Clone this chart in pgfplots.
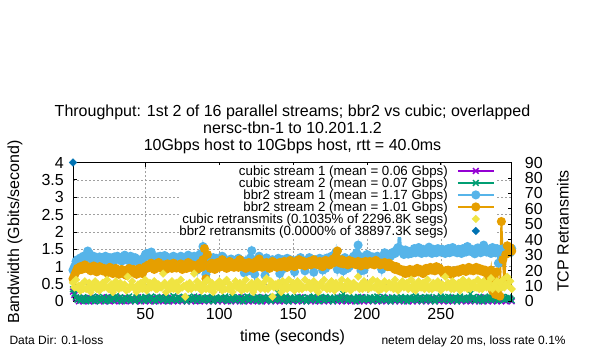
\documentclass[border=0pt]{standalone}
\usepackage{fontspec}
\setmainfont{Liberation Sans}
\usepackage{pgfplots}
\usepackage{pgfplotstable}
\pgfplotsset{compat=1.18}

\definecolor{cpurple}{HTML}{9400D3}
\definecolor{cgreen}{HTML}{009E73}
\definecolor{cblue}{HTML}{56B4E9}
\definecolor{corange}{HTML}{E69F00}
\definecolor{cyellow}{HTML}{F0E442}
\definecolor{cdblue}{HTML}{0072B2}
\definecolor{cgrid}{HTML}{A0A0A0}

\newcommand{\fsz}[1]{\fontsize{#1bp}{#1bp}\selectfont}

% bbr2 stream 1 (Gbps), t = 1..298
\pgfplotstableread[row sep=\\]{v\\
0.90\\ 1.00\\ 1.15\\ 1.20\\ 1.10\\ 1.25\\ 1.18\\ 1.30\\ 1.22\\ 1.28\\
1.45\\ 1.38\\ 1.25\\ 1.20\\ 1.30\\ 1.24\\ 1.15\\ 1.22\\ 1.28\\ 1.20\\
1.25\\ 1.18\\ 1.30\\ 1.22\\ 1.15\\ 1.26\\ 1.20\\ 1.12\\ 1.28\\ 1.24\\
1.30\\ 1.20\\ 1.26\\ 1.16\\ 1.28\\ 1.33\\ 1.22\\ 1.18\\ 1.25\\ 1.30\\
1.20\\ 1.14\\ 1.26\\ 1.22\\ 1.17\\ 1.10\\ 1.20\\ 1.15\\ 1.25\\ 1.35\\
1.38\\ 1.30\\ 1.34\\ 1.42\\ 1.30\\ 1.25\\ 1.20\\ 1.28\\ 1.24\\ 1.30\\
1.18\\ 1.26\\ 1.32\\ 1.20\\ 1.27\\ 1.22\\ 1.15\\ 1.25\\ 1.30\\ 1.20\\
1.25\\ 1.17\\ 1.23\\ 1.30\\ 1.20\\ 1.12\\ 1.26\\ 1.20\\ 1.33\\ 1.27\\
1.20\\ 1.10\\ 1.30\\ 1.16\\ 0.90\\ 1.28\\ 1.36\\ 1.22\\ 1.58\\ 1.34\\
0.78\\ 1.12\\ 1.25\\ 1.20\\ 1.10\\ 1.26\\ 1.18\\ 1.24\\ 1.15\\ 1.10\\
1.22\\ 1.30\\ 1.25\\ 1.18\\ 1.10\\ 1.00\\ 1.16\\ 1.22\\ 1.10\\ 1.18\\
1.06\\ 1.15\\ 1.24\\ 1.12\\ 1.18\\ 1.10\\ 0.82\\ 1.16\\ 0.95\\ 0.88\\
1.25\\ 1.46\\ 1.20\\ 0.78\\ 1.15\\ 1.10\\ 1.30\\ 1.14\\ 1.20\\ 1.10\\
0.75\\ 1.25\\ 1.15\\ 1.10\\ 1.00\\ 1.20\\ 1.16\\ 1.12\\ 1.18\\ 1.24\\
0.80\\ 1.15\\ 1.20\\ 0.95\\ 1.18\\ 1.24\\ 1.12\\ 1.20\\ 1.10\\ 1.16\\
0.85\\ 1.15\\ 1.20\\ 1.10\\ 1.26\\ 1.18\\ 1.10\\ 0.88\\ 1.16\\ 1.20\\
1.26\\ 1.12\\ 1.10\\ 0.84\\ 1.20\\ 1.15\\ 1.10\\ 1.24\\ 1.18\\ 0.90\\
1.20\\ 0.95\\ 1.25\\ 1.15\\ 1.10\\ 1.30\\ 1.20\\ 1.16\\ 1.42\\ 0.92\\
1.15\\ 1.20\\ 1.10\\ 0.88\\ 1.26\\ 1.15\\ 0.95\\ 1.00\\ 1.18\\ 1.24\\
1.30\\ 1.22\\ 1.40\\ 1.62\\ 1.30\\ 0.88\\ 1.20\\ 0.90\\ 1.18\\ 1.35\\
1.25\\ 1.30\\ 1.20\\ 1.28\\ 1.24\\ 1.15\\ 1.30\\ 1.25\\ 1.20\\ 0.92\\
1.28\\ 1.40\\ 1.30\\ 1.26\\ 1.36\\ 1.30\\ 1.35\\ 1.42\\ 1.38\\ 1.48\\
1.55\\ 2.20\\ 1.50\\ 1.42\\ 1.35\\ 1.48\\ 1.40\\ 1.36\\ 1.44\\ 1.38\\
1.45\\ 1.52\\ 1.40\\ 1.48\\ 1.55\\ 1.42\\ 1.38\\ 1.50\\ 1.45\\ 1.40\\
1.48\\ 1.56\\ 1.44\\ 1.38\\ 1.50\\ 1.46\\ 1.40\\ 1.52\\ 1.48\\ 1.42\\
1.50\\ 1.44\\ 1.38\\ 1.46\\ 1.52\\ 1.40\\ 1.47\\ 1.55\\ 1.43\\ 1.48\\
1.40\\ 1.50\\ 1.45\\ 1.38\\ 1.52\\ 1.46\\ 1.42\\ 1.58\\ 1.48\\ 1.44\\
1.50\\ 1.43\\ 1.37\\ 1.48\\ 1.54\\ 1.45\\ 1.40\\ 1.50\\ 1.62\\ 1.46\\
1.42\\ 1.50\\ 1.45\\ 1.38\\ 1.55\\ 1.48\\ 1.40\\ 1.52\\ 1.10\\ 1.45\\
1.50\\ 1.42\\ 1.48\\ 1.55\\ 1.44\\ 1.50\\ 1.40\\ 1.52\\
}\tblBone

% bbr2 stream 2 (Gbps)
\pgfplotstableread[row sep=\\]{v\\
0.65\\ 0.75\\ 0.85\\ 0.95\\ 0.90\\ 1.00\\ 0.92\\ 0.98\\ 1.05\\ 0.95\\
1.00\\ 0.92\\ 0.88\\ 0.95\\ 1.02\\ 0.90\\ 0.85\\ 0.95\\ 1.00\\ 0.92\\
0.88\\ 0.95\\ 0.90\\ 0.82\\ 0.92\\ 0.98\\ 0.86\\ 0.80\\ 0.90\\ 0.95\\
0.85\\ 0.78\\ 0.88\\ 0.92\\ 0.80\\ 0.86\\ 0.75\\ 0.90\\ 0.95\\ 0.82\\
0.88\\ 0.92\\ 0.85\\ 0.78\\ 0.90\\ 0.95\\ 0.86\\ 0.80\\ 0.92\\ 1.00\\
0.95\\ 1.05\\ 0.98\\ 1.10\\ 1.00\\ 0.92\\ 1.05\\ 0.98\\ 1.12\\ 1.02\\
0.95\\ 1.05\\ 1.00\\ 0.92\\ 1.08\\ 0.98\\ 1.02\\ 0.95\\ 1.10\\ 1.00\\
0.96\\ 1.04\\ 0.98\\ 1.08\\ 0.92\\ 1.00\\ 1.05\\ 0.95\\ 1.12\\ 1.00\\
0.98\\ 1.05\\ 0.95\\ 1.02\\ 0.92\\ 1.00\\ 1.10\\ 0.98\\ 1.20\\ 1.52\\
0.65\\ 1.35\\ 1.05\\ 0.95\\ 1.10\\ 1.00\\ 0.92\\ 1.05\\ 1.12\\ 0.98\\
1.05\\ 1.20\\ 1.00\\ 1.10\\ 0.95\\ 1.05\\ 1.15\\ 1.00\\ 1.08\\ 0.98\\
1.05\\ 1.12\\ 0.98\\ 1.20\\ 1.05\\ 1.00\\ 1.10\\ 0.95\\ 1.05\\ 1.12\\
1.00\\ 1.08\\ 0.95\\ 1.05\\ 1.15\\ 1.00\\ 1.22\\ 1.05\\ 0.98\\ 1.10\\
1.05\\ 1.12\\ 1.00\\ 0.95\\ 1.08\\ 1.15\\ 1.02\\ 1.10\\ 0.98\\ 1.05\\
1.12\\ 1.00\\ 1.08\\ 1.15\\ 1.05\\ 0.98\\ 1.10\\ 1.18\\ 1.05\\ 1.12\\
1.00\\ 1.15\\ 1.08\\ 1.20\\ 1.05\\ 1.10\\ 1.15\\ 1.02\\ 1.12\\ 1.08\\
1.15\\ 1.05\\ 1.10\\ 1.20\\ 1.08\\ 1.12\\ 1.05\\ 1.15\\ 1.10\\ 1.00\\
1.12\\ 1.18\\ 1.08\\ 1.15\\ 1.05\\ 1.10\\ 1.22\\ 1.12\\ 1.30\\ 1.45\\
1.15\\ 1.10\\ 1.20\\ 1.08\\ 1.15\\ 1.12\\ 1.05\\ 1.18\\ 1.10\\ 1.15\\
1.08\\ 1.12\\ 1.05\\ 1.15\\ 1.10\\ 1.02\\ 1.12\\ 1.08\\ 1.15\\ 1.05\\
1.10\\ 1.15\\ 1.08\\ 1.12\\ 1.05\\ 1.18\\ 1.10\\ 1.12\\ 1.05\\ 1.10\\
1.08\\ 1.12\\ 1.05\\ 1.00\\ 1.10\\ 1.05\\ 0.98\\ 1.02\\ 0.92\\ 1.00\\
0.95\\ 0.88\\ 0.92\\ 0.85\\ 0.90\\ 0.80\\ 0.88\\ 0.82\\ 0.92\\ 0.85\\
0.90\\ 0.82\\ 0.88\\ 0.95\\ 0.85\\ 0.92\\ 0.88\\ 0.80\\ 0.90\\ 0.95\\
0.88\\ 0.92\\ 0.98\\ 0.90\\ 0.95\\ 0.88\\ 1.00\\ 0.92\\ 0.96\\ 0.90\\
0.85\\ 0.80\\ 0.88\\ 0.82\\ 0.90\\ 0.85\\ 0.78\\ 0.88\\ 0.82\\ 0.86\\
0.90\\ 0.84\\ 0.92\\ 0.88\\ 0.95\\ 0.90\\ 0.86\\ 0.92\\ 0.98\\ 0.90\\
0.94\\ 0.88\\ 0.92\\ 0.98\\ 0.90\\ 0.95\\ 0.88\\ 0.92\\ 0.85\\ 0.90\\
0.82\\ 0.75\\ 0.60\\ 0.90\\ 0.30\\ 0.70\\ 0.20\\ 0.85\\ 0.35\\ 0.15\\
2.30\\ 1.20\\ 0.55\\ 1.35\\ 1.60\\ 1.40\\ 1.55\\ 1.45\\
}\tblBtwo

% cubic stream 1 (Gbps)
\pgfplotstableread[row sep=\\]{v\\
0.28\\ 0.18\\ 0.10\\ 0.06\\ 0.00\\ 0.08\\ 0.04\\ 0.00\\ 0.10\\ 0.06\\
0.02\\ 0.00\\ 0.09\\ 0.05\\ 0.00\\ 0.11\\ 0.03\\ 0.07\\ 0.00\\ 0.10\\
0.04\\ 0.00\\ 0.08\\ 0.12\\ 0.02\\ 0.00\\ 0.09\\ 0.05\\ 0.00\\ 0.07\\
0.11\\ 0.03\\ 0.00\\ 0.08\\ 0.05\\ 0.00\\ 0.10\\ 0.02\\ 0.06\\ 0.00\\
0.09\\ 0.04\\ 0.00\\ 0.07\\ 0.12\\ 0.01\\ 0.00\\ 0.08\\ 0.05\\ 0.00\\
0.10\\ 0.06\\ 0.00\\ 0.03\\ 0.09\\ 0.00\\ 0.07\\ 0.04\\ 0.00\\ 0.11\\
0.05\\ 0.00\\ 0.08\\ 0.02\\ 0.10\\ 0.00\\ 0.06\\ 0.09\\ 0.00\\ 0.04\\
0.07\\ 0.00\\ 0.11\\ 0.05\\ 0.00\\ 0.08\\ 0.03\\ 0.00\\ 0.10\\ 0.06\\
0.00\\ 0.09\\ 0.04\\ 0.00\\ 0.12\\ 0.02\\ 0.00\\ 0.07\\ 0.05\\ 0.00\\
0.08\\ 0.03\\ 0.00\\ 0.10\\ 0.06\\ 0.00\\ 0.09\\ 0.04\\ 0.00\\ 0.07\\
0.11\\ 0.00\\ 0.05\\ 0.08\\ 0.00\\ 0.03\\ 0.10\\ 0.00\\ 0.06\\ 0.09\\
0.00\\ 0.04\\ 0.07\\ 0.00\\ 0.12\\ 0.05\\ 0.00\\ 0.08\\ 0.02\\ 0.00\\
0.10\\ 0.06\\ 0.00\\ 0.09\\ 0.03\\ 0.00\\ 0.07\\ 0.11\\ 0.00\\ 0.05\\
0.08\\ 0.00\\ 0.04\\ 0.10\\ 0.00\\ 0.06\\ 0.09\\ 0.00\\ 0.03\\ 0.07\\
0.00\\ 0.11\\ 0.05\\ 0.00\\ 0.08\\ 0.02\\ 0.00\\ 0.10\\ 0.06\\ 0.00\\
0.09\\ 0.04\\ 0.00\\ 0.07\\ 0.12\\ 0.00\\ 0.05\\ 0.08\\ 0.00\\ 0.03\\
0.10\\ 0.00\\ 0.06\\ 0.09\\ 0.00\\ 0.04\\ 0.07\\ 0.00\\ 0.11\\ 0.05\\
0.00\\ 0.08\\ 0.03\\ 0.00\\ 0.10\\ 0.06\\ 0.00\\ 0.09\\ 0.04\\ 0.00\\
0.07\\ 0.11\\ 0.00\\ 0.05\\ 0.08\\ 0.00\\ 0.02\\ 0.10\\ 0.00\\ 0.06\\
0.09\\ 0.00\\ 0.04\\ 0.07\\ 0.00\\ 0.12\\ 0.05\\ 0.00\\ 0.08\\ 0.03\\
0.00\\ 0.10\\ 0.06\\ 0.00\\ 0.09\\ 0.04\\ 0.00\\ 0.07\\ 0.11\\ 0.00\\
0.05\\ 0.08\\ 0.00\\ 0.03\\ 0.10\\ 0.00\\ 0.06\\ 0.09\\ 0.00\\ 0.04\\
0.07\\ 0.00\\ 0.11\\ 0.05\\ 0.00\\ 0.08\\ 0.02\\ 0.00\\ 0.10\\ 0.06\\
0.00\\ 0.09\\ 0.04\\ 0.00\\ 0.07\\ 0.12\\ 0.00\\ 0.05\\ 0.08\\ 0.00\\
0.03\\ 0.10\\ 0.00\\ 0.06\\ 0.09\\ 0.00\\ 0.04\\ 0.07\\ 0.00\\ 0.11\\
0.05\\ 0.00\\ 0.08\\ 0.03\\ 0.00\\ 0.10\\ 0.06\\ 0.00\\ 0.09\\ 0.04\\
0.00\\ 0.07\\ 0.11\\ 0.00\\ 0.05\\ 0.08\\ 0.00\\ 0.02\\ 0.10\\ 0.00\\
0.06\\ 0.09\\ 0.00\\ 0.04\\ 0.07\\ 0.00\\ 0.12\\ 0.05\\ 0.00\\ 0.08\\
0.03\\ 0.00\\ 0.10\\ 0.06\\ 0.00\\ 0.09\\ 0.04\\ 0.00\\ 0.07\\ 0.11\\
0.00\\ 0.05\\ 0.08\\ 0.00\\ 0.03\\ 0.10\\ 0.06\\ 0.00\\
}\tblCone

% cubic stream 2 (Gbps)
\pgfplotstableread[row sep=\\]{v\\
0.35\\ 0.22\\ 0.12\\ 0.05\\ 0.10\\ 0.02\\ 0.08\\ 0.12\\ 0.04\\ 0.00\\
0.06\\ 0.10\\ 0.03\\ 0.12\\ 0.08\\ 0.00\\ 0.05\\ 0.14\\ 0.09\\ 0.02\\
0.07\\ 0.11\\ 0.00\\ 0.04\\ 0.13\\ 0.06\\ 0.02\\ 0.10\\ 0.08\\ 0.15\\
0.03\\ 0.09\\ 0.12\\ 0.00\\ 0.06\\ 0.11\\ 0.04\\ 0.08\\ 0.14\\ 0.02\\
0.10\\ 0.05\\ 0.00\\ 0.12\\ 0.07\\ 0.03\\ 0.11\\ 0.09\\ 0.01\\ 0.13\\
0.06\\ 0.02\\ 0.10\\ 0.14\\ 0.04\\ 0.08\\ 0.00\\ 0.12\\ 0.05\\ 0.09\\
0.13\\ 0.03\\ 0.07\\ 0.11\\ 0.00\\ 0.06\\ 0.10\\ 0.04\\ 0.15\\ 0.08\\
0.02\\ 0.12\\ 0.06\\ 0.09\\ 0.03\\ 0.13\\ 0.07\\ 0.00\\ 0.11\\ 0.05\\
0.10\\ 0.04\\ 0.14\\ 0.08\\ 0.01\\ 0.12\\ 0.06\\ 0.10\\ 0.03\\ 0.09\\
0.05\\ 0.12\\ 0.02\\ 0.08\\ 0.13\\ 0.00\\ 0.07\\ 0.11\\ 0.04\\ 0.09\\
0.12\\ 0.03\\ 0.08\\ 0.14\\ 0.06\\ 0.01\\ 0.10\\ 0.05\\ 0.13\\ 0.07\\
0.02\\ 0.09\\ 0.12\\ 0.04\\ 0.08\\ 0.00\\ 0.11\\ 0.06\\ 0.14\\ 0.03\\
0.08\\ 0.12\\ 0.05\\ 0.10\\ 0.02\\ 0.13\\ 0.07\\ 0.00\\ 0.09\\ 0.11\\
0.04\\ 0.08\\ 0.13\\ 0.06\\ 0.01\\ 0.10\\ 0.12\\ 0.03\\ 0.07\\ 0.24\\
0.06\\ 0.11\\ 0.02\\ 0.09\\ 0.14\\ 0.05\\ 0.00\\ 0.12\\ 0.08\\ 0.03\\
0.10\\ 0.06\\ 0.13\\ 0.02\\ 0.09\\ 0.11\\ 0.04\\ 0.08\\ 0.00\\ 0.12\\
0.07\\ 0.03\\ 0.10\\ 0.14\\ 0.05\\ 0.09\\ 0.01\\ 0.12\\ 0.06\\ 0.10\\
0.02\\ 0.13\\ 0.08\\ 0.04\\ 0.11\\ 0.07\\ 0.00\\ 0.10\\ 0.05\\ 0.12\\
0.09\\ 0.03\\ 0.14\\ 0.22\\ 0.06\\ 0.10\\ 0.02\\ 0.12\\ 0.07\\ 0.04\\
0.11\\ 0.08\\ 0.00\\ 0.13\\ 0.05\\ 0.09\\ 0.12\\ 0.03\\ 0.07\\ 0.10\\
0.04\\ 0.12\\ 0.08\\ 0.01\\ 0.11\\ 0.06\\ 0.14\\ 0.02\\ 0.09\\ 0.05\\
0.13\\ 0.07\\ 0.03\\ 0.10\\ 0.06\\ 0.00\\ 0.12\\ 0.08\\ 0.04\\ 0.11\\
0.07\\ 0.02\\ 0.13\\ 0.09\\ 0.05\\ 0.11\\ 0.00\\ 0.08\\ 0.12\\ 0.04\\
0.10\\ 0.06\\ 0.14\\ 0.03\\ 0.08\\ 0.12\\ 0.01\\ 0.09\\ 0.05\\ 0.11\\
0.07\\ 0.13\\ 0.02\\ 0.10\\ 0.06\\ 0.00\\ 0.12\\ 0.08\\ 0.04\\ 0.14\\
0.09\\ 0.03\\ 0.11\\ 0.06\\ 0.13\\ 0.02\\ 0.08\\ 0.10\\ 0.05\\ 0.12\\
0.00\\ 0.09\\ 0.14\\ 0.04\\ 0.07\\ 0.11\\ 0.03\\ 0.10\\ 0.06\\ 0.22\\
0.08\\ 0.12\\ 0.02\\ 0.09\\ 0.05\\ 0.13\\ 0.07\\ 0.00\\ 0.11\\ 0.04\\
0.10\\ 0.06\\ 0.14\\ 0.03\\ 0.08\\ 0.12\\ 0.05\\ 0.09\\ 0.02\\ 0.11\\
0.07\\ 0.13\\ 0.04\\ 0.10\\ 0.06\\ 0.12\\ 0.08\\ 0.03\\
}\tblCtwo

% cubic retransmits (count, right axis)
\pgfplotstableread[row sep=\\]{v\\
12\\ 9\\ 14\\ 9\\ 10\\ 7\\ 11\\ 8\\ 13\\ 8\\
9\\ 12\\ 6\\ 10\\ 9\\ 13\\ 8\\ 11\\ 7\\ 9\\
12\\ 9\\ 10\\ 14\\ 8\\ 9\\ 11\\ 6\\ 8\\ 13\\
10\\ 8\\ 12\\ 9\\ 9\\ 11\\ 7\\ 16\\ 8\\ 10\\
13\\ 9\\ 9\\ 6\\ 11\\ 8\\ 12\\ 8\\ 10\\ 14\\
7\\ 9\\ 12\\ 9\\ 10\\ 13\\ 8\\ 8\\ 11\\ 9\\
9\\ 18\\ 12\\ 6\\ 9\\ 11\\ 8\\ 13\\ 8\\ 10\\
12\\ 7\\ 9\\ 14\\ 9\\ 10\\ 3\\ 11\\ 8\\ 12\\
8\\ 10\\ 18\\ 9\\ 13\\ 9\\ 11\\ 7\\ 9\\ 12\\
8\\ 14\\ 8\\ 10\\ 12\\ 6\\ 9\\ 11\\ 9\\ 13\\
10\\ 7\\ 12\\ 8\\ 14\\ 8\\ 11\\ 9\\ 6\\ 10\\
13\\ 9\\ 9\\ 12\\ 7\\ 11\\ 8\\ 14\\ 8\\ 10\\
9\\ 12\\ 6\\ 11\\ 9\\ 13\\ 10\\ 8\\ 9\\ 12\\
8\\ 15\\ 8\\ 10\\ 13\\ 3\\ 9\\ 11\\ 9\\ 12\\
10\\ 6\\ 13\\ 8\\ 11\\ 8\\ 14\\ 9\\ 9\\ 12\\
7\\ 10\\ 13\\ 8\\ 11\\ 8\\ 9\\ 14\\ 9\\ 10\\
12\\ 8\\ 9\\ 13\\ 8\\ 11\\ 6\\ 10\\ 12\\ 9\\
14\\ 9\\ 8\\ 11\\ 8\\ 13\\ 10\\ 7\\ 12\\ 9\\
9\\ 11\\ 14\\ 8\\ 10\\ 8\\ 13\\ 9\\ 7\\ 11\\
12\\ 9\\ 10\\ 16\\ 8\\ 11\\ 8\\ 13\\ 9\\ 10\\
8\\ 12\\ 9\\ 14\\ 9\\ 10\\ 13\\ 7\\ 11\\ 8\\
10\\ 13\\ 8\\ 9\\ 12\\ 9\\ 11\\ 8\\ 14\\ 10\\
7\\ 11\\ 9\\ 13\\ 9\\ 10\\ 12\\ 8\\ 9\\ 14\\
8\\ 11\\ 7\\ 10\\ 13\\ 9\\ 9\\ 12\\ 8\\ 11\\
14\\ 8\\ 10\\ 8\\ 12\\ 9\\ 9\\ 13\\ 10\\ 7\\
11\\ 9\\ 16\\ 9\\ 12\\ 10\\ 8\\ 13\\ 8\\ 11\\
9\\ 12\\ 7\\ 10\\ 14\\ 9\\ 11\\ 8\\ 13\\ 8\\
10\\ 12\\ 9\\ 9\\ 14\\ 8\\ 11\\ 8\\ 13\\ 10\\
9\\ 12\\ 9\\ 15\\ 8\\ 11\\ 10\\ 13\\ 8\\ 12\\
9\\ 14\\ 9\\ 11\\ 16\\ 10\\ 13\\ 8\\
}\tblCr

\begin{document}
\begin{tikzpicture}[x=1bp,y=1bp]
\path[use as bounding box] (0,0) rectangle (600,350);

\begin{axis}[
  at={(73bp,48.65bp)}, anchor=south west,
  scale only axis, width=438.7bp, height=138.85bp,
  xmin=1, xmax=298, ymin=0, ymax=4,
  xtick={50,100,150,200,250},
  ytick={0,0.5,...,4},
  ytick pos=left, xtick pos=both,
  tick align=inside, major tick length=4bp,
  tick style={black, line width=0.8bp},
  axis line style={black, line width=0.8bp},
  grid=major,
  major grid style={cgrid, line width=0.6bp, dash pattern=on 2bp off 2bp},
  extra y ticks={0}, extra y tick labels={},
  extra y tick style={grid=major, major grid style={black, solid, line width=1.8bp}},
  /pgf/number format/assume math mode=true,
  tick label style={font=\fsz{16}, inner sep=0pt},
  yticklabel style={xshift=-9bp},
  xticklabel style={yshift=-7bp},
  clip marker paths=false,
]
\addplot[cpurple, line width=2bp, mark=x, mark size=4bp, mark options={solid, line width=1.5bp}]
  table[x expr=\coordindex+1, y=v] {\tblCone};
\addplot[cgreen, line width=2bp, mark=x, mark size=4bp, mark options={solid, line width=1.5bp}]
  table[x expr=\coordindex+1, y=v] {\tblCtwo};
\addplot[cblue, line width=2bp, mark=*, mark size=3.5bp, mark options={solid, fill=cblue}]
  table[x expr=\coordindex+1, y=v] {\tblBone};
\addplot[corange, line width=2bp, mark=*, mark size=3.5bp, mark options={solid, fill=corange}]
  table[x expr=\coordindex+1, y=v] {\tblBtwo};
\end{axis}

\begin{axis}[
  at={(73bp,48.65bp)}, anchor=south west,
  scale only axis, width=438.7bp, height=138.85bp,
  xmin=1, xmax=298, ymin=0, ymax=90,
  axis x line=none, axis y line*=right,
  ytick={0,10,...,90},
  tick align=inside, major tick length=4bp,
  tick style={black, line width=0.8bp},
  axis line style={black, line width=0.8bp, -},
  /pgf/number format/assume math mode=true,
  tick label style={font=\fsz{16}, inner sep=0pt},
  yticklabel style={xshift=13bp},
  clip marker paths=false,
  legend plot pos=right,
  legend cell align=right,
  legend image code/.code={\draw[mark repeat=2,mark phase=2,#1] plot coordinates {(0bp,0bp) (18bp,0bp) (36bp,0bp)};},
  legend style={at={(1,1)}, anchor=north east, xshift=-16.7bp, yshift=-2.2bp,
    draw=none, fill=white, inner sep=0pt, row sep=0pt, column sep=9bp,
    font=\fsz{13.3},
    nodes={inner sep=0pt, text height=11bp, text depth=1bp}},
]
\addlegendimage{cpurple, line width=2bp, mark=x, mark size=4bp, mark options={solid, line width=1.5bp}}
\addlegendentry{cubic stream 1 (mean = 0.06 Gbps)}
\addlegendimage{cgreen, line width=2bp, mark=x, mark size=4bp, mark options={solid, line width=1.5bp}}
\addlegendentry{cubic stream 2 (mean = 0.07 Gbps)}
\addlegendimage{cblue, line width=2bp, mark=*, mark size=3.5bp, mark options={solid, fill=cblue}}
\addlegendentry{bbr2 stream 1 (mean = 1.17 Gbps)}
\addlegendimage{corange, line width=2bp, mark=*, mark size=3.5bp, mark options={solid, fill=corange}}
\addlegendentry{bbr2 stream 2 (mean = 1.01 Gbps)}
\addplot[only marks, mark=square*, mark size=2.7bp, color=cyellow, mark options={rotate=45, fill=cyellow, draw=cyellow}]
  table[x expr=\coordindex+1, y=v] {\tblCr};
\addlegendentry{cubic retransmits (0.1035\% of 2296.8K segs)}
\addplot[only marks, mark=square*, mark size=2.7bp, color=cdblue, mark options={rotate=45, fill=cdblue, draw=cdblue}]
  coordinates {(1,90)};
\addlegendentry{bbr2 retransmits (0.0000\% of 38897.3K segs)}
\end{axis}

\node[anchor=base, font=\fsz{16}] at (292.5,233.3) {Throughput: 1st 2 of 16 parallel streams; bbr2 vs cubic; overlapped};
\node[anchor=base, font=\fsz{16}] at (292.5,216.7) {nersc-tbn-1 to 10.201.1.2};
\node[anchor=base, font=\fsz{16}] at (292.5,200) {10Gbps host to 10Gbps host, rtt = 40.0ms};
\node[anchor=base, font=\fsz{16}] at (292.5,9) {time (seconds)};
\node[anchor=base, rotate=90, font=\fsz{16}] at (19.2,118) {Bandwidth (Gbits/second)};
\node[anchor=base, rotate=90, font=\fsz{16}] at (568.7,119) {TCP Retransmits};
\node[anchor=base west, font=\fsz{12}] at (6,5.5) {Data Dir: 0.1-loss};
\node[anchor=base west, font=\fsz{12}] at (378,6) {netem delay 20 ms, loss rate 0.1\%};
\end{tikzpicture}
\end{document}
